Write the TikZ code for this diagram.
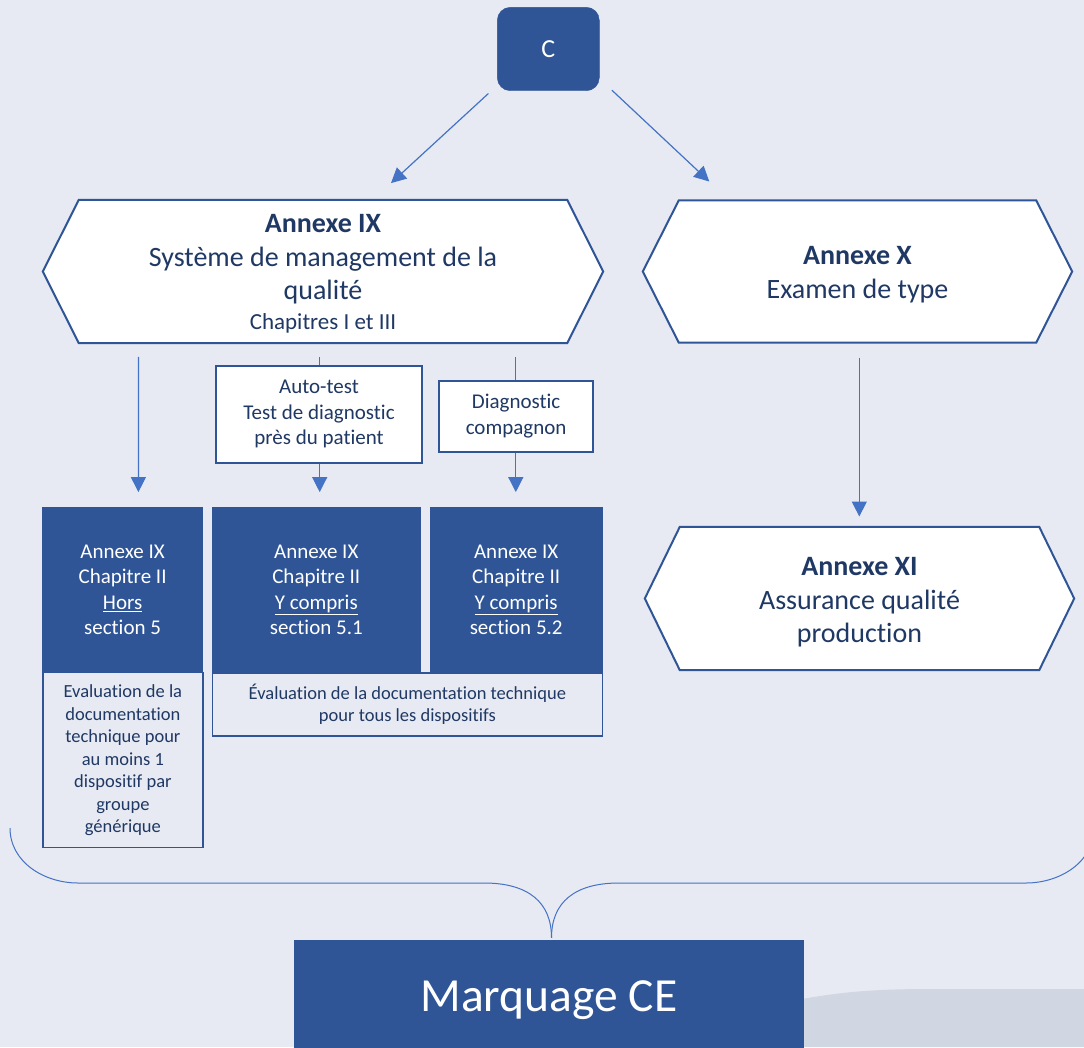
\documentclass[tikz,border=0pt]{standalone}
\usepackage{fontspec}
\setmainfont{Carlito}[Ligatures=CommonOff]
\usetikzlibrary{arrows.meta,calc}

\definecolor{pagebg}{RGB}{231,234,242}
\definecolor{navy}{RGB}{31,56,100}
\definecolor{boxblue}{RGB}{47,85,151}
\definecolor{linkblue}{RGB}{68,114,196}
\definecolor{shadegrey}{RGB}{208,214,226}

\pgfdeclarelayer{backdrop}
\pgfdeclarelayer{frames}
\pgfsetlayers{backdrop,frames,main}

% hexagonal outline drawn around a named node; #2 is the horizontal inset of the points
\newcommand{\hexframe}[2]{%
  \begin{pgfonlayer}{frames}
    \draw[hexline] ([xshift=#2]#1.north west) -- ([xshift=-#2]#1.north east) -- (#1.east)
      -- ([xshift=-#2]#1.south east) -- ([xshift=#2]#1.south west) -- (#1.west) -- cycle;
  \end{pgfonlayer}}
% invisible strut that lowers a centred text block a little
\newcommand{\lowerby}[1]{\rule{0pt}{#1}}

\tikzset{
  hexline/.style={draw=boxblue, line width=2pt, fill=white, line join=miter},
  hexnode/.style={inner sep=0pt, align=center, text=navy,
    font=\fontsize{28}{33.5}\selectfont},
  cbox/.style={fill=boxblue, draw=boxblue, rounded corners=13pt, inner sep=0pt,
    minimum width=102pt, minimum height=83.4pt, text=white,
    font=\fontsize{26}{30}\selectfont},
  casebox/.style={draw=boxblue, line width=1.8pt, fill=white, inner sep=0pt,
    align=center, text=navy, font=\fontsize{21}{25.5}\selectfont},
  darkbox/.style={fill=boxblue, inner sep=0pt, minimum height=165.4pt,
    align=center, text=white, font=\fontsize{21}{25.5}\selectfont},
  evalbox/.style={draw=boxblue, line width=1.5pt, inner sep=0pt, align=center,
    text=navy, font=\fontsize{18.5}{22.5}\selectfont},
  cebox/.style={fill=boxblue, inner sep=0pt, minimum width=510pt, minimum height=120pt,
    text=white, font=\fontsize{47.5}{56}\selectfont},
  arr/.style={draw=linkblue, line width=1.2pt, -{Triangle[length=15pt,width=15pt]}},
  link/.style={draw=linkblue, line width=1.2pt},
  bracel/.style={draw=linkblue, line width=1pt},
}

\begin{document}
\begin{tikzpicture}[x=1pt, y=-1pt]
  \useasboundingbox (0,0) rectangle (1084,1047);
  \begin{pgfonlayer}{backdrop}
    \fill[pagebg] (0,0) rectangle (1084,1047);
  \end{pgfonlayer}
  \clip (0,0) rectangle (1084,1047);

  % top entry
  \node[cbox] (c) at (548.3,49) {C};

  % first level: Annexe IX and Annexe X
  \node[hexnode, minimum width=560pt, minimum height=143pt] (annexIX) at (323,271.5)
    {\lowerby{23.5pt}\textbf{Annexe IX}\\Système de management de la\\qualité\\[-3.5pt]%
     {\fontsize{23}{28}\selectfont Chapitres I et III}};
  \hexframe{annexIX}{36pt}

  \node[hexnode, minimum width=429pt, minimum height=142pt] (annexX) at (857.5,271.5)
    {\lowerby{24.5pt}\textbf{Annexe X}\\Examen de type};
  \hexframe{annexX}{36pt}

  \node[hexnode, minimum width=429pt, minimum height=143pt] (annexXI) at (859.5,598.5)
    {\lowerby{26pt}\textbf{Annexe XI}\\Assurance qualité\\production};
  \hexframe{annexXI}{35pt}

  % device categories
  \node[casebox, minimum width=206.5pt, minimum height=96.7pt] (autotest) at (319,414.4)
    {Auto-test\\Test de diagnostic\\près du patient};
  \node[casebox, minimum width=153.8pt, minimum height=71pt] (compagnon) at (516.1,416.2)
    {Diagnostic\\compagnon};

  % technical documentation assessment
  \node[evalbox, minimum width=159.8pt, minimum height=175pt] (evalA) at (122.9,760.2)
    {Evaluation de la\\documentation\\technique pour\\au moins 1\\dispositif par\\groupe\\générique};
  \node[evalbox, minimum width=390pt, minimum height=63.3pt] (evalB) at (407.4,704.4)
    {Évaluation de la documentation technique\\pour tous les dispositifs};

  % Annexe IX chapter II variants
  \node[darkbox, minimum width=161pt] (chapA) at (122.6,590)
    {Annexe IX\\Chapitre II\\\underline{Hors}\\section 5};
  \node[darkbox, minimum width=209.4pt] (chapB) at (316.3,590)
    {Annexe IX\\Chapitre II\\\underline{Y compris}\\section 5.1};
  \node[darkbox, minimum width=173pt] (chapC) at (516.2,590)
    {Annexe IX\\Chapitre II\\\underline{Y compris}\\section 5.2};

  % connectors
  \draw[arr] ([xshift=-8.7pt,yshift=-2.6pt]c.south west) -- ([xshift=68pt,yshift=16.7pt]annexIX.north);
  \draw[arr] ([xshift=12.4pt,yshift=0.7pt]c.south east) -- ([xshift=-148.2pt,yshift=18.8pt]annexX.north);

  \draw[arr] ([xshift=-184.6pt,yshift=-13.7pt]annexIX.south) -- ([xshift=15.8pt,yshift=15pt]chapA.north);
  \draw[link] ([xshift=-3.3pt,yshift=-13.7pt]annexIX.south) -- ([xshift=0.7pt]autotest.north);
  \draw[arr] ([xshift=0.7pt]autotest.south) -- ([xshift=3.4pt,yshift=15pt]chapB.north);
  \draw[link] ([xshift=192.8pt,yshift=-13.7pt]annexIX.south) -- ([xshift=-0.3pt]compagnon.north);
  \draw[arr] ([xshift=-0.3pt]compagnon.south) -- ([xshift=-0.4pt,yshift=15pt]chapC.north);

  \draw[arr] ([xshift=1.8pt,yshift=-14.8pt]annexX.south) -- ([xshift=-0.2pt,yshift=10.3pt]annexXI.north);

  % shaded corner behind the final box
  \fill[shadegrey] (790,1001.5) .. controls (835,992) and (875,989) .. (930,989)
    -- (1084,989) -- (1084,1047) -- (790,1047) -- cycle;

  % final outcome
  \node[cebox] (ce) at (549,1000) {Marquage CE};

  % brace gathering every route into the final box
  \coordinate (bracetip) at ([xshift=2.5pt,yshift=2pt]ce.north);
  \draw[bracel] (10,828) .. controls (10,862) and (44,883) .. (78,883) -- (484,883)
    .. controls (528,883) and (551.5,902) .. (bracetip);
  \draw[bracel] (1094,828) .. controls (1094,862) and (1060,883) .. (1026,883) -- (619,883)
    .. controls (575,883) and (551.5,902) .. (bracetip);
\end{tikzpicture}
\end{document}
